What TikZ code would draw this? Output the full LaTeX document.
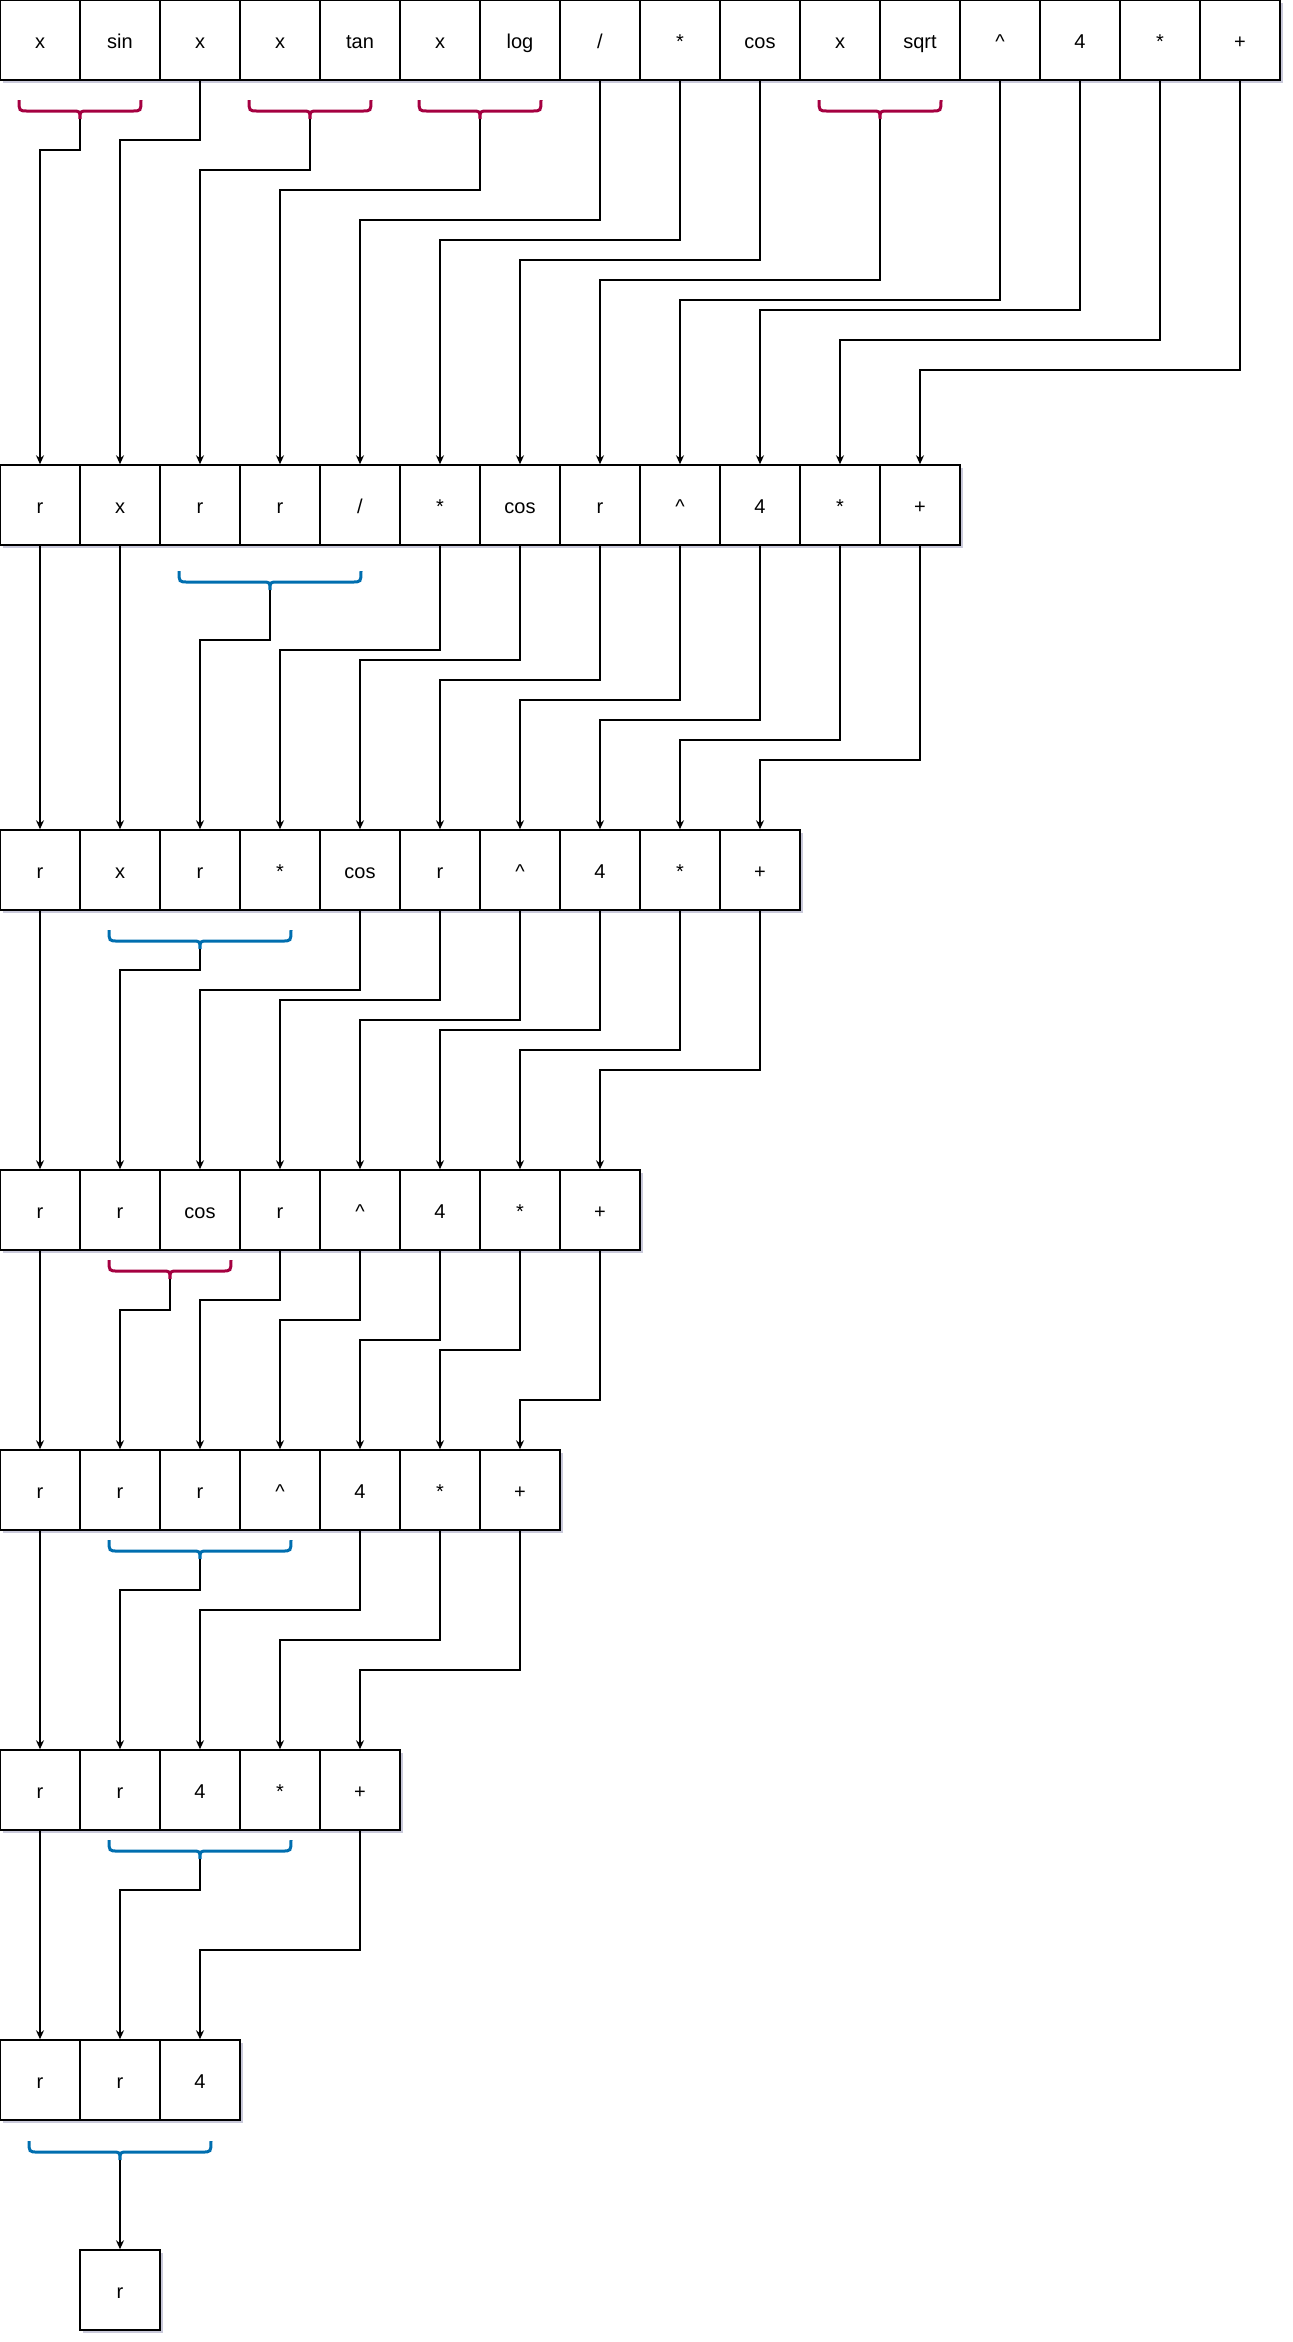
\documentclass[tikz,border=0pt]{standalone}
\usepackage{fontspec}
\setmainfont{Liberation Sans}
\usetikzlibrary{arrows.meta,shadows}
\definecolor{brred}{HTML}{A50040}
\definecolor{brblue}{HTML}{006EAF}
\definecolor{shade}{HTML}{C9C9DA}
\begin{document}
\begin{tikzpicture}[x=.5pt,y=-.5pt,line width=.75pt,
 cell/.style={draw,fill=white,minimum size=40pt,inner sep=0pt,text height=9pt,text depth=1pt,font=\fontsize{10}{12}\selectfont,
  drop shadow={shadow xshift=1.5pt,shadow yshift=-1.5pt,fill=shade,opacity=1}},
 arr/.style={-{Stealth[length=4.5pt,width=4pt]}},
 pics/cb/.style={code={\draw[line width=1.5pt] (-#1,-19) .. controls (-#1,-8) .. ({-#1+9},-8) -- (-8,-8) .. controls (0,-8) .. (0,0)
  .. controls (0,-8) .. (8,-8) -- ({#1-9},-8) .. controls (#1,-8) .. (#1,-19);}}]
\useasboundingbox (0,0) rectangle (1292,2342);
\foreach \r/\y/\l in {a/40/{x,sin,x,x,tan,x,log,/,*,cos,x,sqrt,\textasciicircum,4,*,+},
 b/505/{r,x,r,r,/,*,cos,r,\textasciicircum,4,*,+}, c/870/{r,x,r,*,cos,r,\textasciicircum,4,*,+},
 d/1210/{r,r,cos,r,\textasciicircum,4,*,+}, e/1490/{r,r,r,\textasciicircum,4,*,+}, f/1790/{r,r,4,*,+}, g/2080/{r,r,4}}
 {\foreach \t [count=\i] in \l \node[cell] (\r\i) at ({80*\i-40},\y) {\t};}
\node[cell] (h) at (120,2290) {r};
\path (80,119) coordinate (p1) pic[brred]{cb=61} (310,119) coordinate (p2) pic[brred]{cb=61}
 (480,119) coordinate (p3) pic[brred]{cb=61} (880,119) coordinate (p4) pic[brred]{cb=61}
 (270,590) coordinate (p5) pic[brblue]{cb=91} (200,949) coordinate (p6) pic[brblue]{cb=91}
 (170,1279) coordinate (p7) pic[brred]{cb=61} (200,1559) coordinate (p8) pic[brblue]{cb=91}
 (200,1859) coordinate (p9) pic[brblue]{cb=91} (120,2160) coordinate (p10) pic[brblue]{cb=91};
\foreach \s/\t/\h in {p1/b1/150, a3/b2/140, p2/b3/170, p3/b4/190, a8/b5/220, a9/b6/240, a10/b7/260, p4/b8/280,
 a13/b9/300, a14/b10/310, a15/b11/340, a16/b12/370,
 p5/c3/640, b6/c4/650, b7/c5/660, b8/c6/680, b9/c7/700, b10/c8/720, b11/c9/740, b12/c10/760,
 p6/d2/970, c5/d3/990, c6/d4/1000, c7/d5/1020, c8/d6/1030, c9/d7/1050, c10/d8/1070,
 p7/e2/1310, d4/e3/1300, d5/e4/1320, d6/e5/1340, d7/e6/1350, d8/e7/1400,
 p8/f2/1590, e5/f3/1610, e6/f4/1640, e7/f5/1670, p9/g2/1890, f5/g3/1950}
 \draw[arr] (\s) -- (\s |- 0,\h) -| (\t);
\foreach \s/\t in {b1/c1, b2/c2, c1/d1, d1/e1, e1/f1, f1/g1, p10/h} \draw[arr] (\s) -- (\t);
\end{tikzpicture}
\end{document}
